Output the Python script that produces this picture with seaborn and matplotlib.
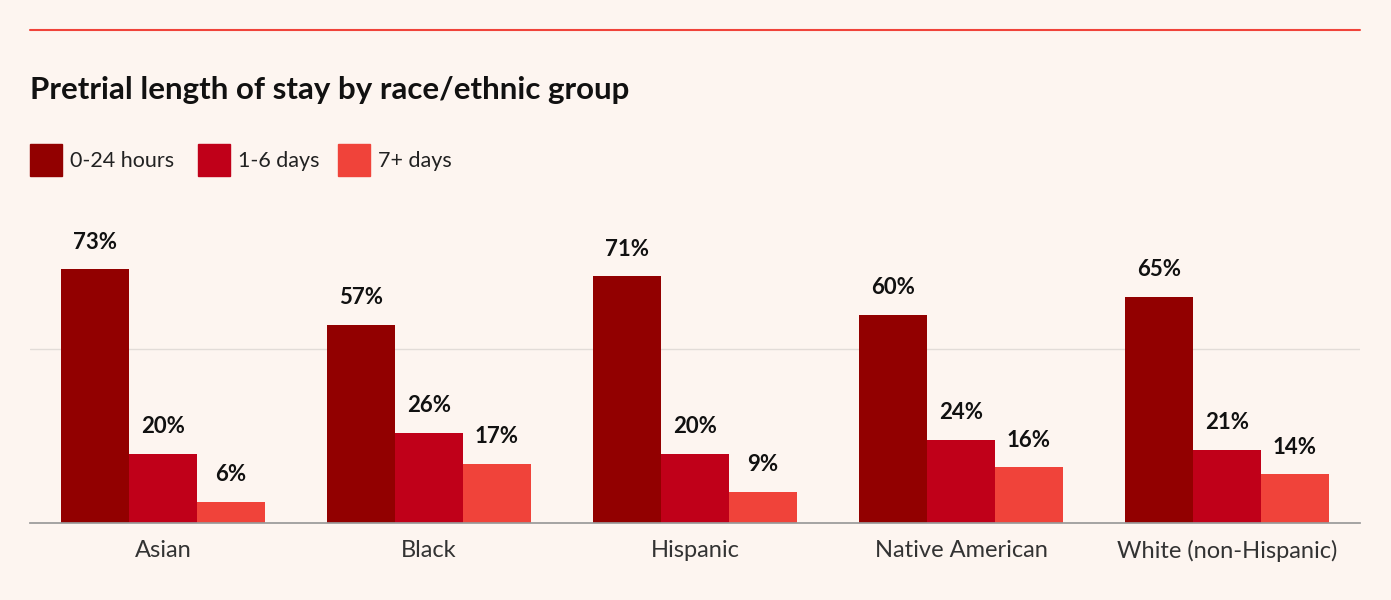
import matplotlib
matplotlib.use("Agg")
import matplotlib.pyplot as plt
import pandas as pd
import seaborn as sns

groups = ["Asian", "Black", "Hispanic", "Native American", "White (non-Hispanic)"]
stays = ["0-24 hours", "1-6 days", "7+ days"]
hours_0_24 = [73, 57, 71, 60, 65]
days_1_6 = [20, 26, 20, 24, 21]
days_7_plus = [6, 17, 9, 16, 14]

colors = ["#920000", "#c00019", "#f0433a"]
bg = "#fdf5f0"

df = pd.DataFrame({
    "group": groups * 3,
    "stay": [s for s in stays for _ in groups],
    "pct": hours_0_24 + days_1_6 + days_7_plus,
})

sns.set_theme(style="white")
plt.rcParams["font.family"] = ["Lato", "DejaVu Sans"]

W, H = 1391, 600
fig = plt.figure(figsize=(W / 100, H / 100), dpi=100, facecolor=bg)
ax = fig.add_axes([30 / W, 77 / H, 1330 / W, 278 / H], facecolor=bg)

sns.barplot(data=df, x="group", y="pct", hue="stay", palette=colors,
            width=0.765, gap=0, saturation=1, linewidth=0, ax=ax, legend=False)

ax.set_xlim(-0.5, 4.5)
ax.set_ylim(0, 80)
ax.axhline(50, color="#e2dcd8", lw=1, zorder=0)
for c in ax.containers:
    ax.bar_label(c, labels=[f"{v:.0f}%" for v in c.datavalues], padding=12,
                 fontsize=16, fontweight="bold", color="#111111")
for s in ["top", "right", "left"]:
    ax.spines[s].set_visible(False)
ax.spines["bottom"].set_color("#999999")
ax.set_yticks([])
ax.set_xlabel("")
ax.set_ylabel("")
ax.tick_params(axis="x", length=0, labelsize=17, colors="#333333", pad=12)

fig.add_artist(plt.Line2D([30 / W, 1360 / W], [1 - 30 / H, 1 - 30 / H],
                          color="#f0433a", lw=1.5))
fig.text(30 / W, 1 - 90 / H, "Pretrial length of stay by race/ethnic group",
         fontsize=22.5, fontweight="bold", color="#111111", va="center")

x = 30
for label, col in zip(stays, colors):
    fig.patches.append(plt.Rectangle((x / W, 1 - 176 / H), 32 / W, 32 / H,
                                     color=col, transform=fig.transFigure))
    fig.text((x + 40) / W, 1 - 161 / H, label, fontsize=15.5, color="#222222",
             va="center")
    x += {"0-24 hours": 168, "1-6 days": 140, "7+ days": 0}[label]

fig.savefig("out.png", dpi=100, facecolor=bg)
